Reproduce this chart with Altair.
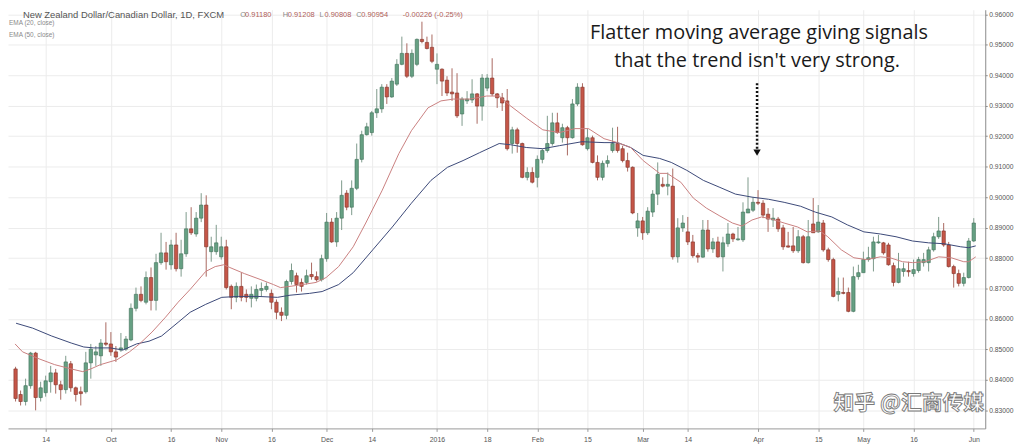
import altair as alt
import pandas as pd

# ---- candle data (NZD/CAD daily) ----
opens = [
    .8436, .8352, .8329, .8381, .8488, .8342, .8358, .8394, .8423, .8384,
    .8368, .8453, .8374, .8361, .8361, .8456, .8482, .8479, .8521, .8518,
    .8492, .8498, .8501, .8531, .8635, .8681, .8655, .8736, .8661, .8785,
    .8817, .8778, .8843, .8765, .8814, .8896, .8879, .8931, .8974, .8821,
    .8821, .8804, .8837, .8707, .8671, .8707, .8681, .8668, .8668, .8694,
    .8697, .8684, .8655, .8622, .8612, .8723, .8742, .8720, .8720, .8746,
    .8739, .8729, .8798, .8918, .8853, .8931, .9013, .8967, .9029, .9124,
    .9205, .9212, .9277, .9290, .9361, .9329, .9371, .9436, .9472, .9397,
    .9436, .9518, .9508, .9492, .9420, .9420, .9384, .9345, .9342, .9273,
    .9316, .9319, .9339, .9299, .9358, .9391, .9339, .9326, .9316, .9176,
    .9221, .9176, .9065, .9081, .9065, .9124, .9153, .9176, .9244, .9195,
    .9228, .9195, .9306, .9361, .9159, .9195, .9114, .9065, .9111, .9153,
    .9176, .9159, .9120, .9098, .8899, .8922, .8883, .8951, .9010, .9042,
    .9036, .9036, .8804, .8899, .8886, .8853, .8808, .8803, .8892, .8830,
    .8853, .8804, .8847, .8879, .8860, .8860, .8948, .8957, .8983, .8980,
    .8944, .8925, .8928, .8899, .8840, .8840, .8824, .8870, .8785, .8912,
    .8886, .8915, .8827, .8795, .8681, .8687, .8687, .8625, .8739, .8752,
    .8795, .8798, .8850, .8850, .8843, .8775, .8720, .8756, .8759, .8749,
    .8759, .8785, .8785, .8827, .8870, .8889, .8843, .8772, .8749, .8717,
    .8736, .8856,
]
highs = [
    .8443, .8365, .8404, .8492, .8492, .8394, .8414, .8446, .8436, .8397,
    .8479, .8462, .8378, .8378, .8492, .8518, .8511, .8534, .8589, .8557,
    .8511, .8554, .8544, .8651, .8703, .8707, .8756, .8769, .8814, .8883,
    .8853, .8860, .8883, .8860, .8951, .8967, .8951, .9013, .9006, .8870,
    .8909, .8870, .8860, .8713, .8720, .8752, .8697, .8707, .8713, .8720,
    .8720, .8697, .8664, .8638, .8729, .8782, .8752, .8733, .8762, .8785,
    .8756, .8811, .8948, .8931, .8951, .9055, .9023, .9055, .9176, .9218,
    .9244, .9283, .9355, .9371, .9371, .9391, .9453, .9527, .9505, .9485,
    .9521, .9576, .9527, .9534, .9472, .9423, .9397, .9423, .9407, .9329,
    .9348, .9387, .9342, .9404, .9404, .9456, .9342, .9342, .9355, .9231,
    .9228, .9179, .9098, .9098, .9137, .9159, .9267, .9277, .9277, .9241,
    .9234, .9322, .9374, .9374, .9225, .9202, .9137, .9120, .9137, .9228,
    .9231, .9169, .9146, .9101, .8948, .8935, .8967, .9023, .9114, .9065,
    .9081, .9094, .8931, .8941, .8935, .8876, .8817, .8925, .8925, .8866,
    .8870, .8870, .8915, .8883, .8902, .8983, .9065, .9000, .9023, .8990,
    .8964, .8964, .8935, .8909, .8886, .8902, .8892, .8876, .8925, .8997,
    .8974, .8925, .8834, .8801, .8736, .8736, .8703, .8772, .8778, .8821,
    .8837, .8870, .8876, .8853, .8850, .8785, .8817, .8785, .8788, .8795,
    .8804, .8817, .8837, .8883, .8935, .8915, .8853, .8778, .8762, .8752,
    .8866, .8931,
]
lows = [
    .8329, .8316, .8316, .8371, .8300, .8329, .8345, .8358, .8355, .8335,
    .8355, .8361, .8329, .8316, .8355, .8404, .8446, .8446, .8511, .8479,
    .8459, .8492, .8495, .8527, .8625, .8655, .8648, .8628, .8628, .8778,
    .8762, .8762, .8756, .8739, .8804, .8876, .8870, .8918, .8739, .8788,
    .8811, .8795, .8697, .8632, .8655, .8658, .8655, .8638, .8658, .8674,
    .8690, .8632, .8599, .8593, .8599, .8713, .8687, .8690, .8713, .8729,
    .8723, .8723, .8788, .8850, .8837, .8892, .8957, .8941, .9023, .9114,
    .9202, .9202, .9260, .9277, .9306, .9326, .9365, .9433, .9391, .9391,
    .9430, .9505, .9485, .9440, .9371, .9332, .9332, .9316, .9260, .9234,
    .9306, .9309, .9241, .9251, .9348, .9332, .9293, .9283, .9153, .9143,
    .9146, .9062, .9055, .9045, .9032, .9111, .9146, .9169, .9208, .9179,
    .9137, .9192, .9299, .9169, .9153, .9111, .9055, .9055, .9098, .9146,
    .9146, .9114, .9084, .8944, .8870, .8860, .8876, .8935, .8974, .9032,
    .9006, .8795, .8785, .8886, .8843, .8801, .8785, .8801, .8821, .8817,
    .8801, .8756, .8837, .8853, .8857, .8853, .8948, .8951, .8974, .8931,
    .8886, .8902, .8886, .8827, .8834, .8817, .8817, .8782, .8782, .8883,
    .8883, .8821, .8788, .8671, .8658, .8681, .8622, .8622, .8729, .8752,
    .8788, .8756, .8847, .8811, .8775, .8707, .8717, .8739, .8739, .8739,
    .8752, .8772, .8756, .8821, .8863, .8837, .8769, .8703, .8707, .8707,
    .8733, .8853,
]
closes = [
    .8339, .8329, .8381, .8488, .8342, .8374, .8397, .8423, .8384, .8368,
    .8459, .8374, .8352, .8355, .8456, .8501, .8492, .8521, .8517, .8492,
    .8475, .8505, .8534, .8635, .8681, .8661, .8736, .8661, .8785, .8817,
    .8788, .8843, .8765, .8814, .8896, .8883, .8931, .8974, .8837, .8837,
    .8850, .8837, .8703, .8671, .8707, .8671, .8671, .8681, .8697, .8700,
    .8707, .8655, .8622, .8612, .8723, .8759, .8713, .8707, .8742, .8739,
    .8729, .8798, .8918, .8853, .8931, .9006, .8967, .9029, .9124, .9205,
    .9231, .9277, .9290, .9361, .9329, .9381, .9436, .9472, .9397, .9472,
    .9518, .9511, .9488, .9446, .9436, .9381, .9342, .9339, .9267, .9322,
    .9322, .9339, .9299, .9391, .9391, .9339, .9326, .9309, .9159, .9221,
    .9176, .9065, .9081, .9049, .9124, .9153, .9176, .9244, .9212, .9228,
    .9195, .9306, .9361, .9172, .9195, .9114, .9065, .9111, .9120, .9176,
    .9153, .9120, .9098, .8948, .8922, .8883, .8954, .9010, .9075, .9036,
    .9042, .8804, .8899, .8915, .8853, .8808, .8803, .8892, .8830, .8853,
    .8804, .8850, .8879, .8863, .8863, .8951, .8961, .8983, .8980, .8941,
    .8928, .8931, .8896, .8837, .8836, .8824, .8870, .8785, .8870, .8883,
    .8918, .8827, .8795, .8674, .8690, .8684, .8625, .8739, .8752, .8795,
    .8801, .8853, .8853, .8817, .8778, .8720, .8765, .8765, .8755, .8762,
    .8795, .8795, .8827, .8870, .8889, .8843, .8772, .8749, .8717, .8736,
    .8856, .8915,
]

# ---- moving averages as drawn (EMA 20 red, EMA 50 navy) ----
ema20_idx = [0.9, 2.4, 5.7, 8.8, 12.1, 14.4, 16.0, 17.9, 21.2, 23.7,
             25.7, 28.2, 30.9, 33.4, 35.8, 38.9, 40.8, 42.5, 43.7, 46.6,
             49.9, 52.4, 53.8, 55.7, 58.2, 60.9, 62.9, 65.4, 68.3, 70.8,
             74.1, 77.4, 79.9, 83.2, 85.8, 88.3, 91.6, 94.9, 97.4, 99.7,
             102.8, 106.1, 109.4, 112.5, 115.2, 118.3, 121.0, 123.6, 126.1, 129.4,
             130.9, 133.6, 136.1, 138.7, 141.4, 143.9, 145.8, 147.8, 149.7, 151.7,
             154.2, 156.9, 158.8, 161.3, 162.9, 165.6, 168.1, 170.6, 173.4, 175.3,
             177.8, 179.8, 182.3, 185.0, 187.5, 190.0, 191.0, 192.4]
ema20_val = [.8518, .8492, .8469, .8450, .8436, .8427, .8436, .8450, .8466, .8492,
             .8518, .8557, .8606, .8655, .8697, .8756, .8772, .8778, .8769, .8749,
             .8729, .8713, .8703, .8707, .8713, .8720, .8736, .8772, .8837, .8915,
             .9023, .9143, .9218, .9293, .9316, .9322, .9322, .9332, .9332, .9299,
             .9260, .9221, .9212, .9225, .9225, .9192, .9179, .9163, .9120, .9078,
             .9078, .9049, .8997, .8964, .8938, .8915, .8905, .8925, .8935, .8928,
             .8915, .8902, .8886, .8889, .8870, .8827, .8801, .8795, .8804, .8801,
             .8788, .8785, .8788, .8804, .8801, .8788, .8788, .8804]
ema50_idx = [1.1, 4.4, 8.2, 12.1, 14.6, 16.6, 19.9, 22.4, 25.1, 27.6,
             30.1, 33.4, 35.8, 38.9, 42.1, 45.4, 49.3, 53.2, 55.7, 59.6,
             62.1, 65.4, 68.3, 72.2, 76.1, 79.9, 83.8, 87.1, 90.2, 93.5,
             97.4, 99.7, 102.8, 106.1, 109.4, 113.9, 118.3, 121.0, 123.6, 126.1,
             129.4, 131.7, 134.8, 138.1, 141.4, 144.5, 147.8, 151.1, 154.2, 157.5,
             160.4, 163.7, 166.8, 170.1, 173.4, 176.5, 179.8, 183.0, 186.1, 189.4,
             191.0, 192.4]
ema50_val = [.8586, .8570, .8544, .8521, .8508, .8505, .8505, .8498, .8518, .8527,
             .8544, .8589, .8622, .8648, .8671, .8674, .8674, .8671, .8678, .8684,
             .8690, .8713, .8752, .8827, .8902, .8980, .9055, .9098, .9120, .9146,
             .9176, .9172, .9163, .9159, .9169, .9182, .9179, .9179, .9163, .9137,
             .9127, .9114, .9088, .9055, .9032, .9010, .9000, .8993, .8983, .8970,
             .8951, .8935, .8909, .8886, .8879, .8870, .8856, .8850, .8847, .8837,
             .8834, .8840]

# ---- axis labels ----
date_tick_idx = [7, 20, 32, 42, 52, 63, 72, 85, 95, 105, 115, 126, 135, 149, 161, 170, 180, 192]
date_tick_lbl = ["14", "Oct", "16", "Nov", "16", "Dec", "14", "2016", "18", "Feb",
                 "15", "Mar", "14", "Apr", "15", "May", "16", "Jun"]
price_ticks = [0.83, 0.84, 0.85, 0.86, 0.87, 0.88, 0.89, 0.90,
               0.91, 0.92, 0.93, 0.94, 0.95, 0.96]

title_text = "New Zealand Dollar/Canadian Dollar, 1D, FXCM"
ohlc_letters = ["O", "H", "L", "C"]
ohlc_values = ["0.91180", "0.91208", "0.90808", "0.90954"]
change_text = "-0.00226 (-0.25%)"
note_lines = ["Flatter moving average giving signals", "that the trend isn't very strong."]
watermark = "知乎 @汇商传媒"

# ---- build tables ----
candles = pd.DataFrame({
    "idx": list(range(1, len(opens) + 1)),
    "open": opens, "high": highs, "low": lows, "close": closes,
})
ema20 = pd.DataFrame({"idx": ema20_idx, "v": ema20_val})
ema50 = pd.DataFrame({"idx": ema50_idx, "v": ema50_val})

W, H = 985, 422
xscale = alt.Scale(domain=[0.48, 193.3], nice=False, zero=False)
yscale = alt.Scale(domain=[0.82407, 0.96153], nice=False, zero=False)

label_expr = ""
for i, l in zip(date_tick_idx, date_tick_lbl):
    label_expr += f"datum.value == {i} ? '{l}' : "
label_expr += "''"

xaxis = alt.Axis(values=date_tick_idx, labelExpr=label_expr, title=None,
                 grid=True, gridColor="#ececec", gridWidth=1,
                 domainColor="#9a9a9a", tickColor="#9a9a9a", tickSize=3,
                 labelFontSize=7, labelColor="#555555", labelPadding=4,
                 labelFont="Liberation Sans")
yaxis = alt.Axis(orient="right", values=price_ticks, format=".5f", title=None,
                 grid=True, gridColor="#ececec", gridWidth=1,
                 domainColor="#8a8a8a", tickColor="#8a8a8a", tickSize=2,
                 labelFontSize=6.8, labelColor="#555555", labelPadding=1.5,
                 labelFont="Liberation Sans")


def X(field):
    return alt.X(field, scale=xscale, axis=xaxis)


def Y(field):
    return alt.Y(field, scale=yscale, axis=yaxis)


UP_FILL, DOWN_FILL = "#66a083", "#c55648"
UP_EDGE, DOWN_EDGE = "#3f6f57", "#7e3329"
UP_WICK, DOWN_WICK = "#7d9a8b", "#a9685f"
is_up = "datum.close >= datum.open"

base = alt.Chart(candles)
wicks = base.mark_rule(strokeWidth=1).encode(
    x=X("idx:Q"), y=Y("low:Q"), y2="high:Q",
    color=alt.condition(is_up, alt.value(UP_WICK), alt.value(DOWN_WICK)),
)
bodies = base.mark_bar(size=3.4, strokeWidth=0.6).encode(
    x=X("idx:Q"), y=Y("open:Q"), y2="close:Q",
    fill=alt.condition(is_up, alt.value(UP_FILL), alt.value(DOWN_FILL)),
    stroke=alt.condition(is_up, alt.value(UP_EDGE), alt.value(DOWN_EDGE)),
)
line20 = alt.Chart(ema20).mark_line(strokeWidth=1, color="#c98080").encode(
    x=X("idx:Q"), y=Y("v:Q"),
)
line50 = alt.Chart(ema50).mark_line(strokeWidth=1, color="#3b4877").encode(
    x=X("idx:Q"), y=Y("v:Q"),
)


def label(text, x, y, size, color, align="left", font="Liberation Sans", **kw):
    return alt.Chart(pd.DataFrame({"t": [text]})).mark_text(
        align=align, baseline="middle", fontSize=size, color=color, font=font, **kw
    ).encode(x=alt.value(x), y=alt.value(y), text="t:N")


texts = [label(title_text, 15, 5, 9.5, "#555555")]
ohlc_x = [234, 277, 314, 351]
for lx, letter, val in zip(ohlc_x, ohlc_letters, ohlc_values):
    texts.append(label(letter, lx, 5, 7.5, "#8a8a8a"))
    texts.append(label(val, lx + 5, 5, 7.5, "#b0605a"))
texts.append(label(change_text, 398, 5, 7.5, "#b0605a"))
texts.append(label("EMA (20, close)", 1, 13, 6.5, "#8a8a8a"))
texts.append(label("EMA (50, close)", 1, 25, 6.5, "#8a8a8a"))
texts.append(label(note_lines[0], 757, 23, 20, "#1a1a1a", align="center", font="Open Sans"))
texts.append(label(note_lines[1], 755, 52, 20, "#1a1a1a", align="center", font="Open Sans"))
texts.append(label(watermark, 908, 397, 21, "#ffffff", align="center",
                   font="Noto Sans CJK SC", stroke="#7a7a7a", strokeWidth=0.9,
                   fontWeight="bold"))

arrow_line = alt.Chart(pd.DataFrame({"a": [0]})).mark_rule(
    color="#111111", strokeWidth=2.5, strokeDash=[2, 2]
).encode(x=alt.value(755), y=alt.value(74), y2=alt.value(140))
arrow_head = alt.Chart(pd.DataFrame({"a": [0]})).mark_point(
    shape="triangle-down", filled=True, color="#111111", size=55, opacity=1
).encode(x=alt.value(755), y=alt.value(144))

chart = alt.layer(wicks, bodies, line50, line20, arrow_line, arrow_head, *texts).properties(
    width=W, height=H,
    padding={"left": 0, "top": 0, "right": 31, "bottom": 18},
    autosize=alt.AutoSizeParams(type="none"),
).configure_view(stroke=None)

chart.save("out.html", embed_options={"renderer": "svg", "actions": False})
